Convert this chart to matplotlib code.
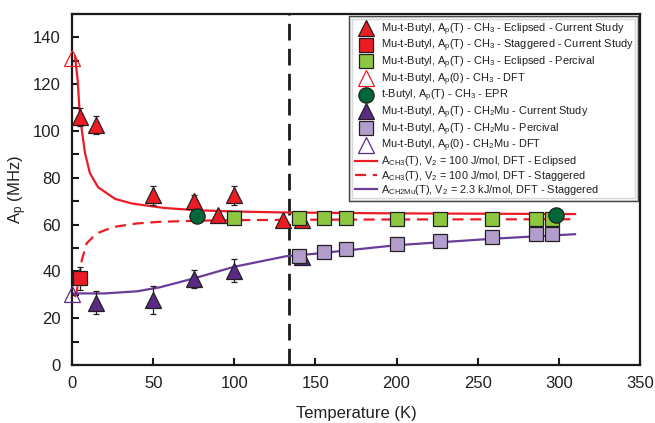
import matplotlib
matplotlib.use("Agg")
import matplotlib.pyplot as plt
import matplotlib.patheffects as pe
from matplotlib.ticker import MultipleLocator

# ---------------- data ----------------
ecl_T = [5, 15, 50, 75, 90, 100, 130, 142]
ecl_A = [106, 102.5, 72.5, 70, 64, 72.5, 62, 62]
ecl_err = [4, 4, 4, 2.5, 0, 4, 0, 0]

stag_T = [5]
stag_A = [37]
stag_err = [5]

perc_ch3_T = [100, 140, 155, 169, 200, 227, 259, 286, 296]
perc_ch3_A = [63, 62.8, 62.8, 62.8, 62.6, 62.6, 62.6, 62.6, 62.6]

dft_ch3_T = [0]
dft_ch3_A = [131]

epr_T = [77, 298]
epr_A = [63.6, 64]

ch2mu_T = [15, 50, 75, 100, 142]
ch2mu_A = [26.6, 27.7, 36.8, 40.3, 46.2]
ch2mu_err = [5, 6, 4, 5, 0]

perc_ch2mu_T = [140, 155, 169, 200, 227, 259, 286, 296]
perc_ch2mu_A = [46.5, 48.2, 49.5, 51.9, 53, 54.8, 55.8, 55.8]

dft_ch2mu_T = [0]
dft_ch2mu_A = [30.5]

ecl_curve_T = [1.8, 3.5, 4.5, 6, 8, 11, 16, 26.5, 37, 57, 78, 100, 130, 200, 310]
ecl_curve_A = [132, 121.5, 110, 100.5, 90.5, 82, 76, 71, 69, 67.1, 66.1, 65.6, 65.2, 64.8, 64.5]

stag_curve_T = [1.8, 3, 6, 9, 15, 25.5, 40, 54, 80, 100, 150, 200, 310]
stag_curve_A = [29, 32, 44.8, 52, 56.2, 59, 60.5, 61.2, 61.7, 61.9, 62.1, 62.2, 62.3]

ch2mu_curve_T = [1, 20, 40, 54, 75, 100, 132, 149, 200, 260, 310]
ch2mu_curve_A = [30.6, 30.6, 31.5, 33.2, 37, 42, 46.5, 47.5, 51.2, 54, 55.9]

t_transition = 134

labels = [
    "Mu-t-Butyl, A$_{p}$(T) - CH$_{3}$ - Eclipsed - Current Study",
    "Mu-t-Butyl, A$_{p}$(T) - CH$_{3}$ - Staggered - Current Study",
    "Mu-t-Butyl, A$_{p}$(T) - CH$_{3}$ - Eclipsed - Percival",
    "Mu-t-Butyl, A$_{p}$(0) - CH$_{3}$ - DFT",
    "t-Butyl, A$_{p}$(T) - CH$_{3}$ - EPR",
    "Mu-t-Butyl, A$_{p}$(T) - CH$_{2}$Mu - Current Study",
    "Mu-t-Butyl, A$_{p}$(T) - CH$_{2}$Mu - Percival",
    "Mu-t-Butyl, A$_{p}$(0) - CH$_{2}$Mu - DFT",
    "A$_{CH3}$(T), V$_{2}$ = 100 J/mol, DFT - Eclipsed",
    "A$_{CH3}$(T), V$_{2}$ = 100 J/mol, DFT - Staggered",
    "A$_{CH2Mu}$(T), V$_{2}$ = 2.3 kJ/mol, DFT - Staggered",
]

# ---------------- style ----------------
plt.rcParams['font.family'] = ['Liberation Sans', 'DejaVu Sans']
plt.rcParams['mathtext.default'] = 'regular'
TXT = '#231f20'
RED = '#ed1c24'
LIME = '#8dc63f'
DKGREEN = '#006838'
PURPLE = '#5b2a86'
LAV = '#b39dcb'
PLINE = '#6a3d9a'

fig = plt.figure(figsize=(6.55, 4.23), dpi=100)
ax = fig.add_axes([0.110, 0.137, 0.867, 0.830])

# curves
l1, = ax.plot(ecl_curve_T, ecl_curve_A, color=RED, lw=1.6, zorder=2)
l2, = ax.plot(stag_curve_T, stag_curve_A, color=RED, lw=1.6, dashes=(5, 3), zorder=2)
l3, = ax.plot(ch2mu_curve_T, ch2mu_curve_A, color=PLINE, lw=1.6, zorder=2)

ax.axvline(t_transition, color='#1a1a1a', lw=2, dashes=(6, 3), zorder=1.5)

ekw = dict(ecolor='#231f20', elinewidth=0.9, capsize=2.5, capthick=0.9, zorder=3)

# error bars
ax.errorbar(ecl_T, ecl_A, yerr=ecl_err, fmt='none', **ekw)
ax.errorbar(stag_T, stag_A, yerr=stag_err, fmt='none', **ekw)
ax.errorbar(ch2mu_T, ch2mu_A, yerr=ch2mu_err, fmt='none', **ekw)

mk = dict(linestyle='none', markeredgecolor='#231f20', markeredgewidth=0.9, zorder=4)
h1, = ax.plot(ecl_T, ecl_A, marker='^', ms=11, markerfacecolor=RED, **mk)
h2, = ax.plot(stag_T, stag_A, marker='s', ms=10, markerfacecolor=RED, **mk)
h3, = ax.plot(perc_ch3_T, perc_ch3_A, marker='s', ms=10, markerfacecolor=LIME, **mk)
h4, = ax.plot(dft_ch3_T, dft_ch3_A, marker='^', ms=12, linestyle='none',
              markerfacecolor='none', markeredgecolor=RED, markeredgewidth=0.9, zorder=4, clip_on=False)
h6, = ax.plot(ch2mu_T, ch2mu_A, marker='^', ms=11, markerfacecolor=PURPLE, **mk)
h7, = ax.plot(perc_ch2mu_T, perc_ch2mu_A, marker='s', ms=10, markerfacecolor=LAV, **mk)
h8, = ax.plot(dft_ch2mu_T, dft_ch2mu_A, marker='^', ms=12, linestyle='none',
              markerfacecolor='none', markeredgecolor=PURPLE, markeredgewidth=0.9, zorder=4, clip_on=False)
h5, = ax.plot(epr_T, epr_A, marker='o', ms=11, markerfacecolor=DKGREEN, **mk)

ax.set_xlim(0, 350)
ax.set_ylim(0, 150)
ax.xaxis.set_major_locator(MultipleLocator(50))
ax.set_yticks([0, 20, 40, 60, 80, 100, 120, 140])
ax.yaxis.set_minor_locator(MultipleLocator(10))
ax.tick_params(which='both', direction='in', colors='#1a1a1a', labelcolor=TXT,
               labelsize=12, width=1.5)
ax.tick_params(which='major', length=5, pad=8)
ax.tick_params(which='minor', length=5)
for s in ax.spines.values():
    s.set_linewidth(1.6)
    s.set_color('#1a1a1a')

ax.set_xlabel('Temperature (K)', fontsize=12, color=TXT, labelpad=11)
ax.set_ylabel('A$_{p}$ (MHz)', fontsize=12, color=TXT, labelpad=3)

handles = [h1, h2, h3, h4, h5, h6, h7, h8, l1, l2, l3]
leg = ax.legend(handles, labels, loc='upper right', bbox_to_anchor=(0.995, 0.988),
                borderaxespad=0, fontsize=7.9, frameon=True, fancybox=False,
                handlelength=2.0, handletextpad=0.4, labelspacing=0.02,
                borderpad=0.3, numpoints=1, edgecolor='#1a1a1a')
leg.get_frame().set_linewidth(0.8)
leg.get_frame().set_path_effects([pe.Stroke(linewidth=3.2, foreground='#1a1a1a'),
                                  pe.Stroke(linewidth=1.2, foreground='white')])
for t in leg.get_texts():
    t.set_color(TXT)
leg.set_zorder(10)

fig.savefig('out.png', dpi=100)
